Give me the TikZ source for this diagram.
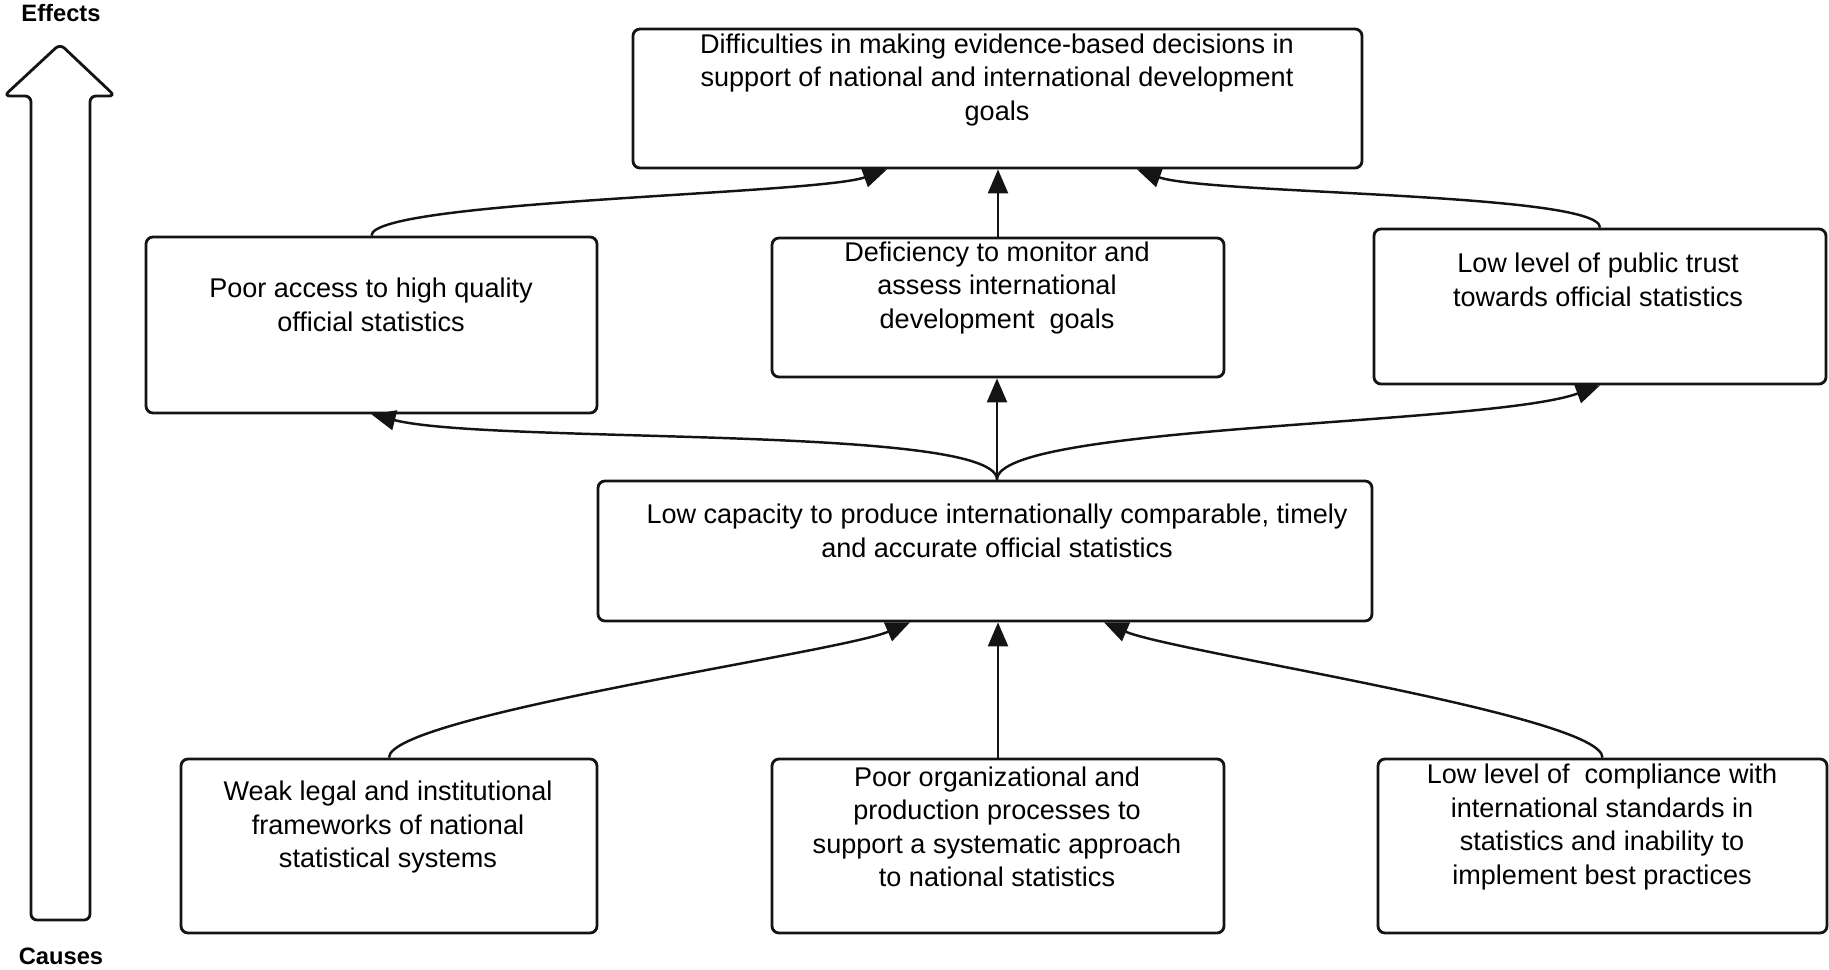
\documentclass[tikz,border=0pt]{standalone}
\usepackage{fontspec}
\setmainfont{Liberation Sans}
\usetikzlibrary{arrows.meta}
\definecolor{ttline}{rgb}{0.08,0.08,0.08}

\tikzset{
  box/.style={draw=ttline, line width=1.6pt, rounded corners=1.4mm, inner sep=0pt},
  txt/.style={align=center, font=\fontsize{15.4}{19}\selectfont, inner sep=0pt},
  tag/.style={font=\fontsize{13.5}{16}\selectfont\bfseries, inner sep=0pt},
  conn/.style={draw=ttline, line width=1.4pt, -{Triangle[length=4.8mm,width=4mm]}}
}

\begin{document}
\begin{tikzpicture}[x=0.2mm, y=-0.2mm]
    \useasboundingbox (0,0) rectangle (1829,970);
    \draw [draw=ttline, line width=1.6pt, rounded corners=1.2mm] (60,44) -- (115,96) -- (90,96) -- (90,920) -- (31,920) -- (31,96) -- (4,96) -- cycle;
    \node[tag] (effects) at (61,13) {Effects};
    \node[tag] (causes) at (61,956) {Causes};
    \node[box, minimum width=145.8mm, minimum height=27.8mm] (goals) at (997.5,98.5) {};
    \node[box, minimum width=90.2mm, minimum height=35.2mm] (access) at (371.5,325) {};
    \node[box, minimum width=90.4mm, minimum height=27.8mm] (monitor) at (998,307.5) {};
    \node[box, minimum width=90.4mm, minimum height=31mm] (trust) at (1600,306.5) {};
    \node[box, minimum width=154.8mm, minimum height=28mm] (capacity) at (985,551) {};
    \node[box, minimum width=83.2mm, minimum height=34.8mm] (legal) at (389,846) {};
    \node[box, minimum width=90.4mm, minimum height=34.8mm] (process) at (998,846) {};
    \node[box, minimum width=89.8mm, minimum height=34.8mm] (standard) at (1602.5,846) {};
    \node[txt] (goalsT) at (997,80) {Difficulties in making evidence-based decisions in\\support of national and international development\\goals};
    \node[txt] (accessT) at (371,305) {Poor access to high quality\\official statistics};
    \node[txt] (monitorT) at (997,288) {Deficiency to monitor and\\assess international\\development\ \ goals};
    \node[txt] (trustT) at (1598,280) {Low level of public trust\\towards official statistics};
    \node[txt] (capacityT) at (997,531) {Low capacity to produce internationally comparable, timely\\and accurate official statistics};
    \node[txt] (legalT) at (388,827) {Weak legal and institutional\\frameworks of national\\statistical systems};
    \node[txt] (processT) at (997,827) {Poor organizational and\\production processes to\\support a systematic approach\\to national statistics};
    \node[txt] (standardT) at (1602,827) {Low level of\ \ compliance with\\international standards in\\statistics and inability to\\implement best practices};
    \coordinate (hub) at ([xshift=2.4mm]capacity.north);
    \draw [conn] (access.north) .. controls +(0,-35) and +(-70,25) .. ([xshift=-22.1mm]goals.south);
    \draw [conn] (monitor.north) -- (monitor.north |- goals.south);
    \draw [conn] (trust.north) .. controls +(0,-35) and +(70,25) .. ([xshift=27.9mm]goals.south);
    \draw [conn] (hub) .. controls +(0,-55) and +(120,30) .. (access.south);
    \draw [conn] (hub) -- (hub |- monitor.south);
    \draw [conn] (hub) .. controls +(0,-55) and +(-110,40) .. (trust.south);
    \draw [conn] (legal.north) .. controls +(0,-42) and +(-70,30) .. ([xshift=-15mm]capacity.south);
    \draw [conn] (process.north) -- (process.north |- capacity.south);
    \draw [conn] (standard.north) .. controls +(0,-42) and +(70,30) .. ([xshift=23.8mm]capacity.south);
\end{tikzpicture}
\end{document}
